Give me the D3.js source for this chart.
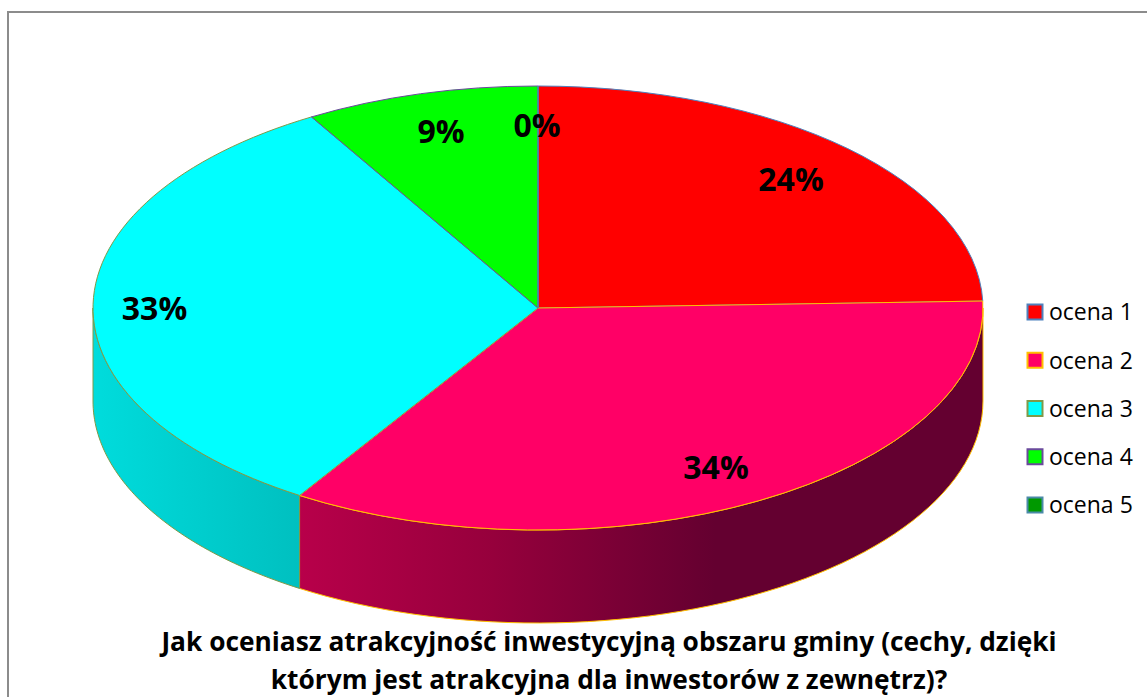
<!DOCTYPE html>
<html><head><meta charset="utf-8">
<script src="https://cdn.jsdelivr.net/npm/d3@7"></script>
<style>html,body{margin:0;padding:0;background:#fff}svg{display:block}text{font-family:"Open Sans",sans-serif}</style>
</head><body><svg id="c" width="1147" height="697"></svg>
<script>
const categories=["ocena 1","ocena 2","ocena 3","ocena 4","ocena 5"];
const values=[24.5,34.5,32.5,8.5,0];
const labels=["24%","34%","33%","9%","0%"];
const fills=["#ff0000","#ff0066","#00ffff","#00ff00","#009900"];
const strokes=["#4f81bd","#ffc000","#7f9a48","#6a4a9c","#4a8aa8"];
const titleLines=["Jak oceniasz atrakcyjność inwestycyjną obszaru gminy (cechy, dzięki","którym jest atrakcyjna dla inwestorów z zewnętrz)?"];
const svg=d3.select("#c");
const cx=538,cy=308,rx=445,ry=222,depth=93;
const defs=svg.append("defs");
function grad(id,stops){const g=defs.append("linearGradient").attr("id",id).attr("gradientUnits","userSpaceOnUse").attr("x1",93).attr("x2",982).attr("y1",0).attr("y2",0);
 stops.forEach(s=>g.append("stop").attr("offset",s[0]).attr("stop-color",s[1]));}
grad("gPink",[[0.232,"#b8004a"],[0.45,"#96003c"],[0.7,"#640030"],[1,"#640030"]]);
grad("gCyan",[[0,"#00dcdc"],[0.232,"#00c0c0"]]);
svg.append("path").attr("d","M1147,12H8V697").attr("fill","none").attr("stroke","#8c8c8c").attr("stroke-width",2);
const arcs=d3.pie().value(d=>d).sort(null)(values);
const px=a=>cx+rx*Math.sin(a),py=a=>cy-ry*Math.cos(a);
const lineGen=d3.line();
function wall(a0,a1){const n=d3.range(0,61).map(i=>a0+(a1-a0)*i/60);
 const top=n.map(a=>[px(a),py(a)]),bot=n.map(a=>[px(a),py(a)+depth]).reverse();
 return lineGen(top.concat(bot))+"Z";}
const PI=Math.PI;
const walls=[[arcs[1],"url(#gPink)",strokes[1]],[arcs[2],"url(#gCyan)",strokes[2]]];
walls.forEach(([d,f,s])=>{const a0=Math.max(d.startAngle,PI/2),a1=Math.min(d.endAngle,3*PI/2);
 svg.append("path").attr("d",wall(a0,a1)).attr("fill",f).attr("stroke",s).attr("stroke-width",1);});
const arc=d3.arc().innerRadius(0).outerRadius(rx);
const g=svg.append("g").attr("transform",`translate(${cx},${cy}) scale(1,${ry/rx})`);
g.selectAll("path").data(arcs).join("path").attr("d",arc).attr("fill",(d,i)=>fills[i]).attr("stroke",(d,i)=>strokes[i]).attr("stroke-width",1).attr("vector-effect","non-scaling-stroke");
const labelPos=[[791,179],[716,467],[154.5,308],[441,131],[537,125]];
svg.selectAll("text.l").data(labels).join("text").attr("class","l").attr("x",(d,i)=>labelPos[i][0]).attr("y",(d,i)=>labelPos[i][1]).attr("dy",".36em").attr("text-anchor","middle").attr("font-size",32).attr("font-weight",700).attr("fill","#000").text(d=>d);
const ly=d3.scalePoint().domain(categories).range([312,505]);
const leg=svg.selectAll("g.leg").data(categories).join("g").attr("class","leg").attr("transform",d=>`translate(1027,${ly(d)})`);
leg.append("rect").attr("x",.5).attr("y",-7.5).attr("width",15).attr("height",15).attr("fill",(d,i)=>fills[i]).attr("stroke",(d,i)=>strokes[i]).attr("stroke-width",2);
leg.append("text").attr("x",22).attr("dy",".36em").attr("font-size",23).attr("fill","#000").text(d=>d);
svg.selectAll("text.t").data(titleLines).join("text").attr("class","t").attr("x",609).attr("y",(d,i)=>651+i*38).attr("text-anchor","middle").attr("font-size",26.3).attr("font-weight",700).attr("fill","#000").text(d=>d);
</script></body></html>
